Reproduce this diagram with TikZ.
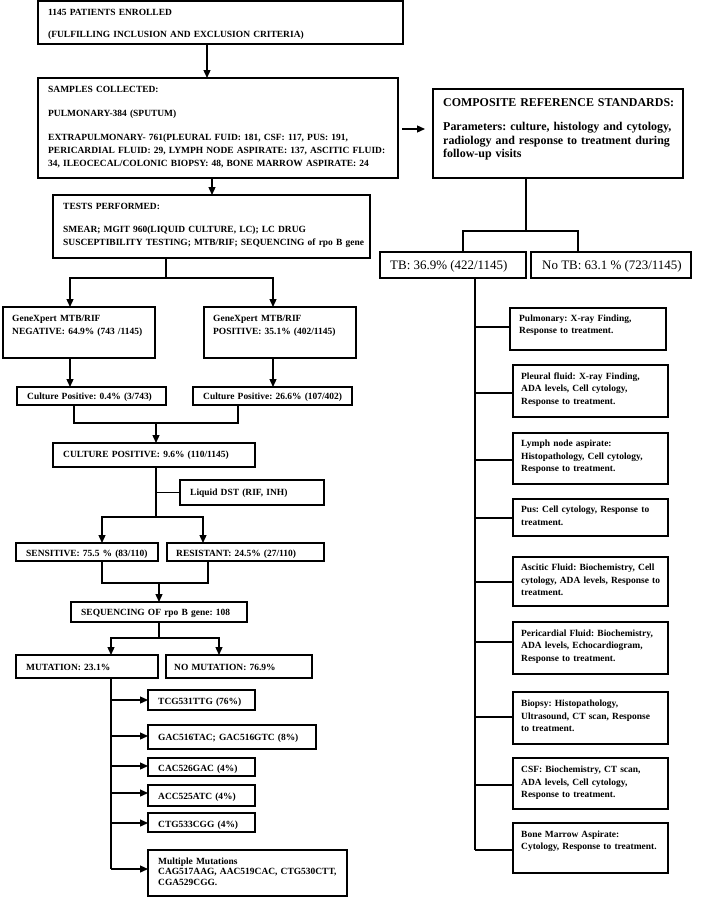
\documentclass[tikz,border=0pt]{standalone}
\usepackage{fontspec}
\setmainfont{Liberation Serif}
\usetikzlibrary{arrows.meta,calc}
\frenchspacing
\newcommand\mkbox[5]{\node[box, minimum width={(#4-#2)*1bp}, minimum height={(#5-#3)*1bp}] (#1) at (#2,#3) {};}
\begin{document}
\begin{tikzpicture}[x=1bp,y=-1bp,
 box/.style={draw, line width=1.3bp, anchor=north west, inner sep=0pt, outer sep=0pt},
 txt/.style={anchor=base west, inner sep=0pt, align=left, text width=380bp, font=\bfseries\fontsize{9.5}{13}\selectfont},
 rtxt/.style={txt, font=\bfseries\fontsize{9.5}{12.7}\selectfont},
 big/.style={anchor=base west, inner sep=0pt, font=\fontsize{13}{15}\selectfont},
 ln/.style={line width=1.3bp},
 arr/.style={line width=1.3bp, -{Triangle[length=8bp,width=7bp]}},
]
\useasboundingbox[fill=white] (0,0) rectangle (701,897);

% ---------- left column boxes ----------
\mkbox{b1}{38}{1}{403}{44}
\mkbox{b2}{38}{78}{398}{178}
\mkbox{b3}{53}{195}{370}{258}
\mkbox{gneg}{3}{307}{155}{358}
\mkbox{gpos}{204}{307}{356}{358}
\mkbox{cneg}{17}{387}{166}{405}
\mkbox{cpos}{193}{387}{352}{405}
\mkbox{cp}{53}{443}{255}{467}
\mkbox{dst}{180}{480}{324}{505}
\mkbox{sens}{16}{543}{158}{561}
\mkbox{res}{167}{543}{324}{561}
\mkbox{seq}{71}{602}{247}{622}
\mkbox{mut}{16}{655}{158}{678}
\mkbox{nomut}{166}{655}{312}{678}
\mkbox{m1}{148}{690}{255}{710}
\mkbox{m2}{148}{725}{316}{749}
\mkbox{m3}{148}{758}{255}{776}
\mkbox{m4}{148}{785}{255}{806}
\mkbox{m5}{148}{813}{255}{832}
\mkbox{m6}{148}{850}{347}{896}

% ---------- right column boxes ----------
\mkbox{comp}{433}{89}{683}{178}
\mkbox{tb}{380}{252}{526}{278}
\mkbox{notb}{531}{252}{691}{278}
\mkbox{r1}{510}{308}{666}{350}
\mkbox{r2}{513}{365}{668}{417}
\mkbox{r3}{513}{433}{668}{484}
\mkbox{r4}{513}{499}{668}{536}
\mkbox{r5}{513}{557}{668}{606}
\mkbox{r6}{513}{622}{668}{674}
\mkbox{r7}{513}{692}{668}{744}
\mkbox{r8}{513}{758}{668}{809}
\mkbox{r9}{513}{823}{668}{873}

% ---------- texts ----------
\node[txt] (b1t) at (48,15.5) {1145 PATIENTS ENROLLED\\[9bp](FULFILLING INCLUSION AND EXCLUSION CRITERIA)};
\node[txt] (b2t) at (48,92.5) {SAMPLES COLLECTED:\\[11bp]PULMONARY-384 (SPUTUM)\\[11bp]EXTRAPULMONARY- 761(PLEURAL FUID: 181, CSF: 117, PUS: 191,\\PERICARDIAL FLUID: 29, LYMPH NODE ASPIRATE: 137, ASCITIC FLUID:\\34, ILEOCECAL/COLONIC BIOPSY: 48, BONE MARROW ASPIRATE: 24};
\node[txt] (b3t) at (63,209) {TESTS PERFORMED:\\[11bp]SMEAR; MGIT 960(LIQUID CULTURE, LC); LC DRUG\\SUSCEPTIBILITY TESTING; MTB/RIF; SEQUENCING of rpo B gene};
\node[txt] (gnegt) at (12,321.5) {GeneXpert MTB/RIF\\[0.5bp]NEGATIVE: 64.9\% (743 /1145)};
\node[txt] (gpost) at (213,321.5) {GeneXpert MTB/RIF\\[0.5bp]POSITIVE: 35.1\% (402/1145)};
\node[txt] (cnegt) at (27,399) {Culture Positive: 0.4\% (3/743)};
\node[txt] (cpost) at (203,399) {Culture Positive: 26.6\% (107/402)};
\node[txt] (cpt) at (63,457) {CULTURE POSITIVE: 9.6\% (110/1145)};
\node[txt] (dstt) at (190,495) {Liquid DST (RIF, INH)};
\node[txt] (senst) at (26,556) {SENSITIVE: 75.5 \% (83/110)};
\node[txt] (rest) at (176,556) {RESISTANT: 24.5\% (27/110)};
\node[txt] (seqt) at (81,615.5) {SEQUENCING OF rpo B gene: 108};
\node[txt] (mutt) at (26,670.5) {MUTATION: 23.1\%};
\node[txt] (nomutt) at (174,670.5) {NO MUTATION: 76.9\%};
\node[txt] (m1t) at (158,704) {TCG531TTG (76\%)};
\node[txt] (m2t) at (158,740) {GAC516TAC; GAC516GTC (8\%)};
\node[txt] (m3t) at (158,771.5) {CAC526GAC (4\%)};
\node[txt] (m4t) at (158,799) {ACC525ATC (4\%)};
\node[txt] (m5t) at (158,827) {CTG533CGG (4\%)};
\node[txt, font=\bfseries\fontsize{9.5}{11}\selectfont] (m6t) at (158,864) {Multiple Mutations\\CAG517AAG, AAC519CAC, CTG530CTT,\\CGA529CGG.};

\node[txt, font=\bfseries\fontsize{12}{13.5}\selectfont] (compt) at (443,106) {COMPOSITE REFERENCE STANDARDS:\\[11.5bp]Parameters: culture, histology and cytology,\\radiology and response to treatment during\\follow-up visits};
\node[big] (tbt) at (390,269.5) {TB: 36.9\% (422/1145)};
\node[big] (notbt) at (542,269.5) {No TB: 63.1 \% (723/1145)};
\node[rtxt] (r1t) at (519,321) {Pulmonary: X-ray Finding,\\Response to treatment.};
\node[rtxt] (r2t) at (521,379) {Pleural fluid: X-ray Finding,\\ADA levels, Cell cytology,\\Response to treatment.};
\node[rtxt] (r3t) at (521,446.5) {Lymph node aspirate:\\Histopathology, Cell cytology,\\Response to treatment.};
\node[rtxt] (r4t) at (521,512.5) {Pus: Cell cytology, Response to\\treatment.};
\node[rtxt] (r5t) at (521,570.5) {Ascitic Fluid: Biochemistry, Cell\\cytology, ADA levels, Response to\\treatment.};
\node[rtxt] (r6t) at (521,636) {Pericardial Fluid: Biochemistry,\\ADA levels, Echocardiogram,\\Response to treatment.};
\node[rtxt] (r7t) at (521,706.5) {Biopsy: Histopathology,\\Ultrasound, CT scan, Response\\to treatment.};
\node[rtxt] (r8t) at (521,772.5) {CSF: Biochemistry, CT scan,\\ADA levels, Cell cytology,\\Response to treatment.};
\node[rtxt] (r9t) at (521,837) {Bone Marrow Aspirate:\\Cytology, Response to treatment.};

% ---------- left connectors ----------
\draw[arr] (207,0 |- b1.south) -- (207,0 |- b2.north);
\draw[arr] (212,0 |- b2.south) -- (212,0 |- b3.north);
\draw[ln] (166,0 |- b3.south) -- (166,278);
\draw[arr] (70,278) -- (273,278) -- (273,0 |- gpos.north);
\draw[arr] (166,278) -- (70,278) -- (70,0 |- gneg.north);
\draw[arr] (70,0 |- gneg.south) -- (70,0 |- cneg.north);
\draw[arr] (273,0 |- gpos.south) -- (273,0 |- cpos.north);
\draw[ln] (74,0 |- cneg.south) -- (74,423) -- (238,423) -- (238,0 |- cpos.south);
\draw[arr] (156,423) -- (156,0 |- cp.north);
\draw[ln] (156,0 |- cp.south) -- (156,517);
\draw[ln] (156,0 |- dst.west) -- (dst.west);
\draw[arr] (156,517) -- (102,517) -- (102,0 |- sens.north);
\draw[arr] (156,517) -- (203,517) -- (203,0 |- res.north);
\draw[ln] (102,0 |- sens.south) -- (102,583) -- (208,583) -- (208,0 |- res.south);
\draw[arr] (159,583) -- (159,0 |- seq.north);
\draw[ln] (159,0 |- seq.south) -- (159,638);
\draw[arr] (159,638) -- (111,638) -- (111,0 |- mut.north);
\draw[arr] (159,638) -- (219,638) -- (219,0 |- nomut.north);
\coordinate (mend) at (111,869);
\draw[ln] (111,0 |- mut.south) -- (mend);
\draw[arr] (111,700) -- (m1.west |- 0,700);
\draw[arr] (111,736) -- (m2.west |- 0,736);
\draw[arr] (111,766) -- (m3.west |- 0,766);
\draw[arr] (111,793) -- (m4.west |- 0,793);
\draw[arr] (111,823) -- (m5.west |- 0,823);
\draw[arr] (mend) -- (m6.west |- mend);

% ---------- right connectors ----------
\draw[arr] ($(b2.east |- 0,129)+(4,0)$) -- ($(comp.west |- 0,129)+(-8,0)$);
\draw[ln] (526,0 |- comp.south) -- (526,231);
\draw[ln] (463,0 |- tb.north) -- (463,231) -- (578,231) -- (578,0 |- notb.north);
\coordinate (rend) at (475,850);
\draw[ln] (475,0 |- tb.south) -- (rend);
\draw[ln] (475,327) -- (r1.west |- 0,327);
\draw[ln] (475,393) -- (r2.west |- 0,393);
\draw[ln] (475,460) -- (r3.west |- 0,460);
\draw[ln] (475,518) -- (r4.west |- 0,518);
\draw[ln] (475,582) -- (r5.west |- 0,582);
\draw[ln] (475,642) -- (r6.west |- 0,642);
\draw[ln] (475,717) -- (r7.west |- 0,717);
\draw[ln] (475,785) -- (r8.west |- 0,785);
\draw[ln] (rend) -- (r9.west |- rend);
\end{tikzpicture}
\end{document}
